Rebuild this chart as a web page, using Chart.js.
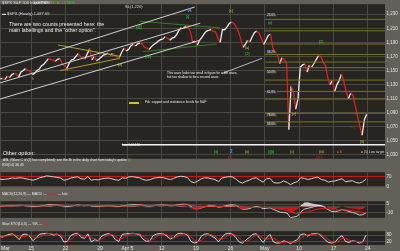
<!DOCTYPE html>
<html>
<head>
<meta charset="utf-8">
<script src="https://cdn.jsdelivr.net/npm/chart.js@4.4.1/dist/chart.umd.min.js"></script>
<style>
  html, body { margin: 0; padding: 0; background: #63605a; }
  #wrap { position: relative; width: 400px; height: 251px; overflow: hidden; background: #63605a;
          font-family: "Liberation Sans", Arial, sans-serif; }
  canvas { position: absolute; left: 0; }
  .t { position: absolute; white-space: nowrap; line-height: 1; color: #eee; }
</style>
</head>
<body>
<div id="wrap">
  <canvas id="priceChart" width="400" height="163" style="top:0"></canvas>
  <canvas id="rsiChart" width="400" height="23" style="top:168px"></canvas>
  <canvas id="macdChart" width="400" height="25" style="top:197px"></canvas>
  <canvas id="stochChart" width="400" height="24" style="top:227px"></canvas>

  <!-- header -->
  <div class="t" style="left:2px;top:1px;font-size:4px;color:#ddd">$SPX S&amp;P 500 Index INDX</div>
  <div class="t" style="left:33px;top:1px;font-size:4px">1,087.69</div>
  <div class="t" style="left:48px;top:1px;font-size:4px;color:#3fd23f">+16.10 +1.50%</div>
  <div class="t" style="left:2px;top:12px;font-size:4px;color:#ddd">▬ $SPX (Hourly) 1,087.69</div>
  <div class="t" style="left:125px;top:5px;font-size:4px;color:#ddd">SL(1,220)</div>

  <div class="t" style="left:9px;top:22px;font-size:5.2px">There are two counts presented here: the</div>
  <div class="t" style="left:9px;top:27.5px;font-size:5.2px">main labellings and the "other option".</div>

  <div class="t" style="left:167px;top:72px;font-size:3.2px">This wave looks too small in figure for a 4th wave,</div>
  <div class="t" style="left:167px;top:75.5px;font-size:3.2px">but too shallow to be a second wave.</div>

  <div style="position:absolute;left:129px;top:101.5px;width:10px;height:2px;background:#c9c23a"></div>
  <div class="t" style="left:145px;top:101px;font-size:3.3px">Fib. support and resistance levels for S&amp;P</div>

  <div class="t" style="left:122px;top:143.5px;font-size:3px">Low 1,044.50</div>
  <div class="t" style="left:3px;top:151px;font-size:5.5px">Other option:</div>
  <div class="t" style="left:3px;top:158.5px;font-size:3.3px">A/B, (Wave C of (2) has completed): see the 4h in the daily chart from today's update <span style="color:#3fd23f">(i)</span></div>

  <!-- wave labels -->
  <div class="t" style="left:188px;top:8px;font-size:5px;color:#4aa8ff;font-weight:bold">A</div>
  <div class="t" style="left:186px;top:15px;font-size:4px;color:#3fd23f">[i]</div>
  <div class="t" style="left:136px;top:26px;font-size:4.5px;color:#3fd23f">(iii)</div>
  <div class="t" style="left:145px;top:55px;font-size:4.5px;color:#3fd23f">(iv)</div>
  <div class="t" style="left:229px;top:10px;font-size:3.5px;color:#d8d040">[c]</div>
  <div class="t" style="left:268px;top:21px;font-size:4px;color:#3fd23f">(ii)</div>
  <div class="t" style="left:245px;top:47px;font-size:3.5px;color:#d8d040">(a)</div>
  <div class="t" style="left:245px;top:52px;font-size:4px;color:#3fd23f">(2)</div>
  <div class="t" style="left:319px;top:40px;font-size:4px;color:#3fd23f">[2]</div>
  <div class="t" style="left:292px;top:113px;font-size:3.5px;color:#d8d040">[v]</div>
  <div class="t" style="left:350px;top:126px;font-size:3.5px;color:#b02020">(iv)</div>
  <div class="t" style="left:360px;top:141px;font-size:3.5px;color:#d8d040">(5)</div>
  <div class="t" style="left:23px;top:60px;font-size:3.5px;color:#d08030">a</div>
  <div class="t" style="left:32px;top:78px;font-size:3.5px;color:#d08030">b</div>
  <div class="t" style="left:88px;top:41px;font-size:3.5px;color:#d08030">c</div>
  <div class="t" style="left:66px;top:69px;font-size:3.5px;color:#d08030">d</div>
  <div class="t" style="left:118px;top:64px;font-size:3.5px;color:#d8d040">(e)</div>

  <!-- fib boxes -->
  <div class="t" style="left:266px;top:13.5px;font-size:3px;background:#333;padding:0 1px">23.6%</div>
  <div class="t" style="left:266px;top:50.5px;font-size:3px;background:#333;padding:0 1px">38.2%</div>
  <div class="t" style="left:266px;top:70.5px;font-size:3px;background:#333;padding:0 1px">50.0%</div>
  <div class="t" style="left:266px;top:90.5px;font-size:3px;background:#333;padding:0 1px">61.8%</div>
  <div class="t" style="left:266px;top:113.5px;font-size:3px;background:#333;padding:0 1px">78.6%</div>
  <div class="t" style="left:266px;top:122.5px;font-size:3px;background:#333;padding:0 1px">88.6%</div>

  <!-- bottom row labels -->
  <div class="t" style="left:214px;top:151px;font-size:3.5px;color:#3fd23f">[iii]</div>
  <div class="t" style="left:230px;top:150px;font-size:4.5px;color:#4aa8ff;font-weight:bold">2</div>
  <div class="t" style="left:228px;top:156px;font-size:4px;color:#d02020">[2]</div>
  <div class="t" style="left:245px;top:151px;font-size:3.5px;color:#d8d040">(ii)</div>
  <div class="t" style="left:268px;top:151px;font-size:3.5px;color:#3fd23f">[i][ii]</div>
  <div class="t" style="left:290px;top:151px;font-size:3.5px;color:#d8d040">(c)</div>
  <div class="t" style="left:319px;top:151px;font-size:3.5px;color:#d8d040">(iii)</div>
  <div class="t" style="left:316px;top:156px;font-size:4px;color:#d02020">[2]?</div>
  <div class="t" style="left:337px;top:151px;font-size:3.5px;color:#d08030">a b</div>
  <div class="t" style="left:361px;top:151px;font-size:3.3px;color:#ddd"><span style="color:#d08030">■</span> (5) Low target</div>

  <!-- panel captions -->
  <div class="t" style="left:2px;top:164px;font-size:3.5px">RSI(14) 36.45</div>
  <div class="t" style="left:2px;top:192.5px;font-size:3.5px">MACD(12,26,9) — MACD — <span style="color:#e02020">signal</span> — hist</div>
  <div class="t" style="left:2px;top:223px;font-size:3.5px">Slow STO(14,3) — %K — <span style="color:#e02020">%D</span></div>
</div>

<script>
// trading days from Mar 8 to May 21 2010 -> day index 0..53
const gridDays = [0.45, 5, 10, 15, 19, 24, 29, 34, 39, 44, 49, 54];
const gridLabels = ["Mar", "15", "22", "29", "Apr 5", "12", "19", "26", "May", "10", "17", "24"];

// hourly closes, 3 readings per trading day
const priceValues = [
  1140, 1138, 1139, 1137, 1142, 1140, 1144, 1146, 1145, 1141, 1148, 1150, 1153, 1150, 1149,
  1144, 1146, 1150, 1152, 1157, 1159, 1163, 1167, 1166, 1165, 1163, 1166, 1167, 1160, 1157,
  1153, 1160, 1165, 1166, 1170, 1174, 1170, 1168, 1167, 1174, 1181, 1165, 1170, 1164, 1166,
  1169, 1172, 1173, 1175, 1172, 1174, 1171, 1170, 1169,
  1176, 1182, 1178,
  1180, 1185, 1187, 1185, 1188, 1189, 1188, 1183, 1182, 1180, 1184, 1187, 1189, 1192, 1194,
  1195, 1198, 1196, 1193, 1196, 1197, 1201, 1207, 1211, 1210, 1213, 1212, 1205, 1190, 1192,
  1186, 1193, 1197, 1202, 1206, 1207, 1208, 1206, 1205, 1196, 1190, 1208, 1208, 1212, 1217,
  1219, 1217, 1212, 1205, 1195, 1183, 1187, 1193, 1191, 1198, 1204, 1206, 1203, 1196, 1187,
  1193, 1200, 1202, 1182, 1176, 1173, 1160, 1168, 1166, 1160, 1066, 1128, 1120, 1095, 1110,
  1155, 1158, 1159, 1148, 1158, 1155, 1160, 1166, 1171, 1170, 1162, 1157, 1140, 1130, 1136,
  1120, 1130, 1136, 1145, 1135, 1120, 1110, 1118, 1115, 1100, 1085, 1071, 1058, 1080, 1088
];
const priceTicks = [1030, 1040, 1050, 1060, 1070, 1080, 1090, 1100, 1110, 1120, 1130, 1140,
  1150, 1160, 1170, 1180, 1190, 1200, 1210, 1220, 1230, 1240];

// indicators, 2 readings per trading day
const rsiValues = [
  55, 50, 52, 55, 60, 58, 62, 60, 55, 50,
  45, 52, 62, 68, 75, 72, 68, 65, 60, 45,
  50, 60, 65, 68, 55, 52, 70, 45, 50, 48,
  55, 58, 60, 55, 48, 45,
  62, 58,
  68, 70, 65, 62, 50, 45, 48, 58, 62, 65,
  62, 55, 50, 58, 68, 72, 70, 62, 35, 28,
  40, 55, 62, 60, 55, 50, 35, 60, 65, 70,
  68, 55, 35, 25, 38, 45, 58, 62, 45, 32,
  55, 58, 30, 25, 28, 40, 30, 15, 28, 35,
  62, 58, 50, 55, 62, 66, 50, 45, 32, 38,
  40, 48, 55, 35, 38, 42, 30, 25, 35, 52
];
const macdLine = [
  1.5, 1.2, 1.5, 1.8, 2.2, 2.4, 2.6, 2.5, 2.0, 1.5,
  0.8, 0.6, 1.2, 2.2, 3.2, 3.8, 3.6, 3.2, 2.6, 1.6,
  0.8, 1.4, 2.2, 3.0, 2.6, 2.0, 2.8, 1.8, 1.2, 0.8,
  1.2, 1.6, 1.8, 1.6, 1.0, 0.6,
  1.8, 2.4,
  3.2, 3.8, 4.0, 3.8, 2.8, 1.8, 1.6, 2.2, 2.8, 3.2,
  3.2, 2.8, 2.2, 2.4, 3.4, 4.4, 4.6, 4.2, 0.8, -2.8,
  -3.4, -2.0, 0.2, 1.6, 1.8, 1.4, -0.5, 0.2, 1.8, 3.0,
  3.6, 2.8, -0.8, -4.2, -4.0, -3.0, -0.8, 0.8, -0.4, -3.2,
  -2.6, -1.6, -4.4, -7.0, -9.6, -9.8, -11, -19.3, -18, -16.5,
  -9, -4, -2.6, -1.2, 0.6, 2.2, 1.6, -0.8, -5.2, -8,
  -8.6, -7.2, -4.8, -6.2, -8.4, -10, -11.6, -14.5, -14, -10.5
];
const macdSignal = [
  1.4, 1.4, 1.4, 1.5, 1.7, 1.9, 2.1, 2.2, 2.2, 2.0,
  1.8, 1.5, 1.4, 1.6, 2.0, 2.5, 2.8, 3.0, 2.9, 2.6,
  2.2, 2.0, 2.0, 2.2, 2.3, 2.2, 2.3, 2.2, 2.0, 1.7,
  1.6, 1.6, 1.6, 1.6, 1.5, 1.3,
  1.4, 1.6,
  2.0, 2.4, 2.8, 3.0, 3.0, 2.8, 2.6, 2.5, 2.5, 2.7,
  2.8, 2.8, 2.7, 2.6, 2.8, 3.1, 3.4, 3.6, 3.2, 2.2,
  1.2, 0.6, 0.4, 0.6, 0.9, 1.0, 0.7, 0.6, 0.8, 1.2,
  1.7, 1.9, 1.4, 0.4, -0.5, -1.0, -1.0, -0.7, -0.6, -1.1,
  -1.4, -1.5, -2.0, -3.0, -4.3, -5.4, -6.5, -9.0, -10.8, -12,
  -11.4, -10, -8.6, -7.2, -5.6, -4.0, -2.9, -2.5, -3.0, -4.0,
  -4.9, -5.4, -5.3, -5.5, -6.1, -6.9, -7.8, -9.2, -10.2, -10.3
];
const macdHist = [
  0.1, -0.2, 0.1, 0.3, 0.5, 0.5, 0.5, 0.3, -0.2, -0.5,
  -1.0, -0.9, -0.2, 0.6, 1.2, 1.3, 0.8, 0.2, -0.3, -1.0,
  -1.4, -0.6, 0.2, 0.8, 0.3, -0.2, 0.5, -0.4, -0.8, -0.9,
  -0.4, 0.0, 0.2, 0.0, -0.5, -0.7,
  0.4, 0.8,
  1.2, 1.4, 1.2, 0.8, -0.2, -1.0, -1.0, -0.3, 0.3, 0.5,
  0.4, 0.0, -0.5, -0.2, 0.6, 1.3, 1.2, 0.6, -2.4, -5.0,
  -4.6, -2.6, -0.2, 1.0, 0.9, 0.4, -1.2, -0.4, 1.0, 1.8,
  1.9, 0.9, -2.2, -4.6, -3.5, -2.0, 0.2, 1.5, 0.2, -2.1,
  -1.2, -0.1, -2.4, -4.0, -5.3, -4.4, -4.5, -10.3, -7.2, -4.5,
  3.0, 7.5, 8.0, 6.5, 5.0, 4.0, 3.0, 1.2, -2.2, -4.0,
  -3.7, -1.8, 0.5, -0.7, -2.3, -3.1, -3.8, -5.3, -3.8, -0.2
];
const stochK = [
  80, 60, 75, 85, 90, 70, 40, 85, 88, 70,
  30, 60, 88, 92, 95, 90, 80, 88, 70, 20,
  25, 75, 90, 95, 60, 50, 90, 20, 40, 30,
  70, 85, 92, 80, 40, 25,
  85, 90,
  92, 95, 90, 85, 45, 25, 30, 75, 88, 92,
  90, 70, 45, 60, 90, 95, 92, 80, 25, 10,
  20, 70, 88, 90, 70, 55, 20, 60, 88, 95,
  90, 60, 20, 10, 35, 60, 85, 92, 50, 15,
  55, 85, 20, 10, 12, 30, 20, 5, 25, 40,
  85, 90, 70, 88, 92, 95, 70, 40, 15, 10,
  20, 55, 75, 25, 15, 30, 25, 10, 20, 80
];
const stochD = [
  75, 70, 70, 75, 82, 80, 65, 65, 70, 80,
  62, 55, 60, 80, 92, 92, 88, 85, 80, 60,
  35, 40, 65, 88, 80, 65, 68, 55, 50, 32,
  45, 65, 85, 85, 68, 48,
  50, 68,
  88, 92, 92, 90, 72, 50, 33, 45, 65, 85,
  90, 85, 65, 55, 65, 82, 92, 88, 62, 38,
  18, 35, 60, 82, 82, 70, 48, 45, 56, 82,
  90, 80, 55, 30, 22, 35, 60, 80, 75, 50,
  40, 52, 52, 38, 14, 18, 20, 18, 17, 23,
  50, 72, 82, 82, 85, 92, 85, 68, 40, 22,
  15, 28, 50, 52, 38, 23, 24, 22, 18, 38
];

// drawn lines, [day, price] ends
const channelUpper = [[0.45, 1152.6], [28.8, 1240.3]];
const channelMiddle = [[0.45, 1132.4], [29.6, 1217.3]];
const channelLower = [[0.45, 1109.5], [29.6, 1193.1]];
const greenUpper = [[20.8, 1220.0], [32.5, 1210.6]];
const greenLower = [[21.3, 1176.9], [32.0, 1187.7]];
const triangleUpper = [[8.9, 1186.3], [17.9, 1170.1]];
const triangleLower = [[9.2, 1149.9], [17.9, 1167.4]];
const arrowLine = [[32.8, 1145.9], [38.6, 1167.4]];
const fibLevels = [1222.7, 1206.5, 1187.7, 1172.8, 1162, 1154, 1136.4, 1120.3, 1109.5, 1089.3, 1077];
const fibStartDay = 39.0;
const lowLevel = 1044.5;
const lowStartDay = 18.2;

const X_MIN = 0.45;
const X_MAX = 56.5;
const PLOT_BG = "#272522";
const GRID = "#4a4843";
const RED = "#e0201c";

const perDay = (arr, n) => arr.map((v, i) => ({ x: Math.floor(i / n) + ((i % n) + 0.5) / n, y: v }));
const pts = (arr) => arr.map(([x, y]) => ({ x, y }));

function lineSet(data, color, width) {
  return { type: "line", data, borderColor: color, borderWidth: width, pointRadius: 0, fill: false, tension: 0 };
}

const panelBg = {
  id: "panelBg",
  beforeDraw(chart) {
    const { ctx, chartArea: a } = chart;
    ctx.save();
    ctx.fillStyle = "#63605a";
    ctx.fillRect(0, 0, chart.width, chart.height);
    ctx.fillStyle = PLOT_BG;
    ctx.fillRect(a.left, a.top, a.right - a.left, a.bottom - a.top);
    ctx.restore();
  },
};

const xLabels = {
  id: "xLabels",
  afterDraw(chart) {
    const { ctx, scales } = chart;
    ctx.save();
    ctx.font = "5px 'Liberation Sans', Arial, sans-serif";
    ctx.fillStyle = "#e6e6e6";
    ctx.textBaseline = "top";
    gridDays.forEach((d, i) => {
      const x = scales.x.getPixelForValue(d);
      ctx.textAlign = i === 0 ? "left" : "center";
      ctx.fillText(gridLabels[i], i === 0 ? x + 1 : x, chart.chartArea.bottom + 1);
    });
    ctx.restore();
  },
};

function options(yMin, yMax, yTicks, fmt, gridColor, xHeight) {
  return {
    responsive: false,
    animation: false,
    events: [],
    layout: { padding: 0, autoPadding: false },
    plugins: { legend: { display: false }, tooltip: { enabled: false } },
    scales: {
      x: {
        type: "linear",
        min: X_MIN,
        max: X_MAX,
        afterBuildTicks: (ax) => { ax.ticks = gridDays.map((v) => ({ value: v })); },
        afterFit: (ax) => { ax.height = xHeight; },
        grid: { color: GRID, drawTicks: false, lineWidth: 1 },
        border: { display: false },
        ticks: { display: false },
      },
      y: {
        position: "right",
        min: yMin,
        max: yMax,
        afterBuildTicks: (ax) => { ax.ticks = yTicks.map((v) => ({ value: v })); },
        afterFit: (ax) => { ax.width = 15; },
        grid: { color: gridColor, drawTicks: false, lineWidth: 1 },
        border: { display: false },
        ticks: {
          color: "#e6e6e6",
          padding: 1.5,
          font: { size: 4.5, family: "'Liberation Sans', Arial, sans-serif" },
          callback: fmt,
        },
      },
    },
  };
}

// price panel
const priceSeries = perDay(priceValues, 3);
const fibSets = fibLevels.map((p) => lineSet(pts([[fibStartDay, p], [X_MAX, p]]), "#77731f", 1));
new Chart(document.getElementById("priceChart"), {
  type: "line",
  data: {
    datasets: [
      ...fibSets,
      lineSet(pts([[lowStartDay, lowLevel], [X_MAX, lowLevel]]), "#f2f2f2", 1.5),
      lineSet(pts(channelUpper), "#d0d0d0", 1),
      lineSet(pts(channelMiddle), "#d0d0d0", 1),
      lineSet(pts(channelLower), "#d0d0d0", 1),
      lineSet(pts(greenUpper), "#2f7f22", 1),
      lineSet(pts(greenLower), "#2f7f22", 1),
      lineSet(pts(triangleUpper), "#a8a030", 1),
      lineSet(pts(triangleLower), "#a8a030", 1),
      lineSet(pts(arrowLine), "#b8b8b8", 1),
      {
        type: "line",
        data: priceSeries,
        borderWidth: 1.3,
        pointRadius: 0,
        tension: 0,
        segment: { borderColor: (c) => (c.p1.parsed.y >= c.p0.parsed.y ? "#ececec" : RED) },
      },
    ],
  },
  options: options(1024.5, 1244.3, priceTicks, (v) => v.toLocaleString("en-US"), GRID, 0),
  plugins: [panelBg],
});

// RSI panel
const rsiGrid = (c) => (c.tick && (c.tick.value === 70 || c.tick.value === 30) ? "#c81818" : c.tick && c.tick.value === 50 ? "#3a4a5a" : GRID);
new Chart(document.getElementById("rsiChart"), {
  type: "line",
  data: { datasets: [lineSet(perDay(rsiValues, 2), "#d0d0d0", 1)] },
  options: options(0, 100, [0, 30, 50, 70, 100], (v) => v, rsiGrid, 0),
  plugins: [panelBg],
});

// MACD panel
const macdGrid = (c) => (c.tick && c.tick.value === 0 ? "#c81818" : GRID);
new Chart(document.getElementById("macdChart"), {
  type: "line",
  data: {
    datasets: [
      {
        type: "line",
        data: perDay(macdHist, 2),
        borderWidth: 0,
        pointRadius: 0,
        tension: 0,
        fill: { target: "origin", above: "rgba(225,225,225,0.85)", below: "rgba(215,25,25,0.9)" },
      },
      lineSet(perDay(macdSignal, 2), RED, 1),
      lineSet(perDay(macdLine, 2), "#cfcfcf", 1),
    ],
  },
  options: options(-19.4, 10, [5, 0, -5, -10, -15], (v) => v, macdGrid, 0),
  plugins: [panelBg],
});

// stochastic panel with date axis
const stoGrid = (c) => (c.tick && (c.tick.value === 80 || c.tick.value === 20) ? "#c81818" : c.tick && c.tick.value === 50 ? "#3a4a5a" : GRID);
new Chart(document.getElementById("stochChart"), {
  type: "line",
  data: {
    datasets: [
      lineSet(perDay(stochD, 2), RED, 1),
      lineSet(perDay(stochK, 2), "#d8d8d8", 1),
    ],
  },
  options: options(-6.7, 113, [20, 50, 80], (v) => v, stoGrid, 6),
  plugins: [panelBg, xLabels],
});
</script>
</body>
</html>
